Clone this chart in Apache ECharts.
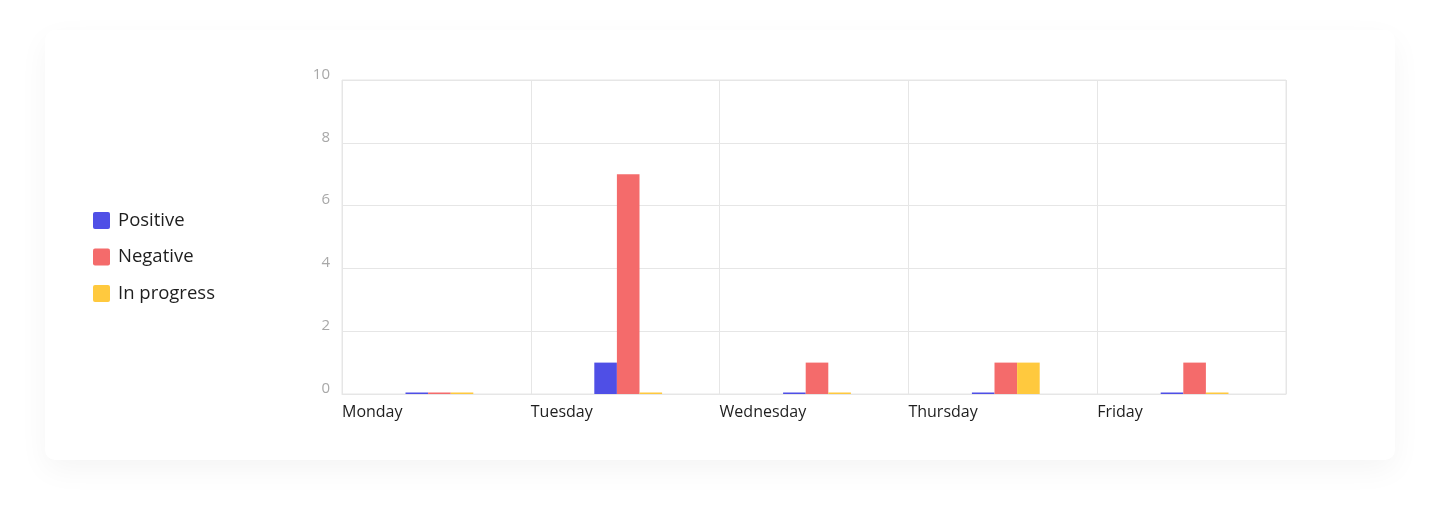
<!DOCTYPE html>
<html><head><meta charset="utf-8">
<script src="https://cdn.jsdelivr.net/npm/echarts@6/dist/echarts.min.js"></script>
<style>
html,body{margin:0;padding:0;width:1440px;height:521px;background:#fff;overflow:hidden;}
#card{position:absolute;left:45px;top:30px;width:1350px;height:430px;background:#fff;border-radius:10px;box-shadow:0 10px 30px rgba(0,0,0,0.045);}
#chart{position:absolute;left:0;top:0;width:1440px;height:521px;}
</style></head>
<body>
<div id="card"></div>
<div id="chart"></div>
<script>
const categories = ['Monday','Tuesday','Wednesday','Thursday','Friday'];
const positive = [0, 1, 0, 0, 0];
const negative = [0, 7, 1, 1, 1];
const inProgress = [0, 0, 0, 1, 0];
const yTicks = { min: 0, max: 10, interval: 2 };

const font = '"Open Sans", Lato, sans-serif';
const chart = echarts.init(document.getElementById('chart'), null, {renderer:'canvas'});
const barCommon = { type:'bar', barWidth: 22.6, barGap: '0%', barMinHeight: 1.5, xAxisIndex: 1, yAxisIndex: 1 };
chart.setOption({
  animation:false,
  backgroundColor:'transparent',
  legend:{
    orient:'vertical', left:88, top:206, itemWidth:17, itemHeight:17, itemGap:17.5,
    icon:'path://M2,0 L15,0 Q17,0 17,2 L17,15 Q17,17 15,17 L2,17 Q0,17 0,15 L0,2 Q0,0 2,0 Z',
    textStyle:{color:'#1e1e1e', fontSize:18.5, fontFamily:font, padding:[0,0,0,3]},
    data:['Positive','Negative','In progress']
  },
  grid:[
    {left:342, right:154, top:80, bottom:127, show:true, borderColor:'#e6e6e6', borderWidth:1},
    {left:345, right:151, top:80, bottom:127, show:false}
  ],
  xAxis:[
    { type:'category', data:categories.concat(['']), boundaryGap:false, position:'bottom', gridIndex:0,
      axisLine:{show:true, lineStyle:{color:'#e6e6e6'}}, axisTick:{show:false},
      splitLine:{show:true, lineStyle:{color:'#e6e6e6'}},
      axisLabel:{align:'left', margin:10, color:'#1e1e1e', fontSize:16, fontFamily:font, showMaxLabel:false, interval:0} },
    { type:'category', data:categories, boundaryGap:true, gridIndex:1, show:false }
  ],
  yAxis:[
    { type:'value', min:yTicks.min, max:yTicks.max, interval:yTicks.interval, gridIndex:0,
      axisLine:{show:false}, axisTick:{show:false},
      splitLine:{lineStyle:{color:'#e6e6e6'}},
      axisLabel:{color:'#a8a8a8', fontSize:15, fontFamily:font, margin:12, verticalAlign:'bottom', lineHeight:11} },
    { type:'value', min:yTicks.min, max:yTicks.max, interval:yTicks.interval, gridIndex:1, show:false }
  ],
  series:[
    Object.assign({name:'Positive', data:positive, itemStyle:{color:'#4f4fe6'}}, barCommon),
    Object.assign({name:'Negative', data:negative, itemStyle:{color:'#f46b6b'}}, barCommon),
    Object.assign({name:'In progress', data:inProgress, itemStyle:{color:'#ffc93e'}}, barCommon)
  ]
});
</script>
</body></html>
